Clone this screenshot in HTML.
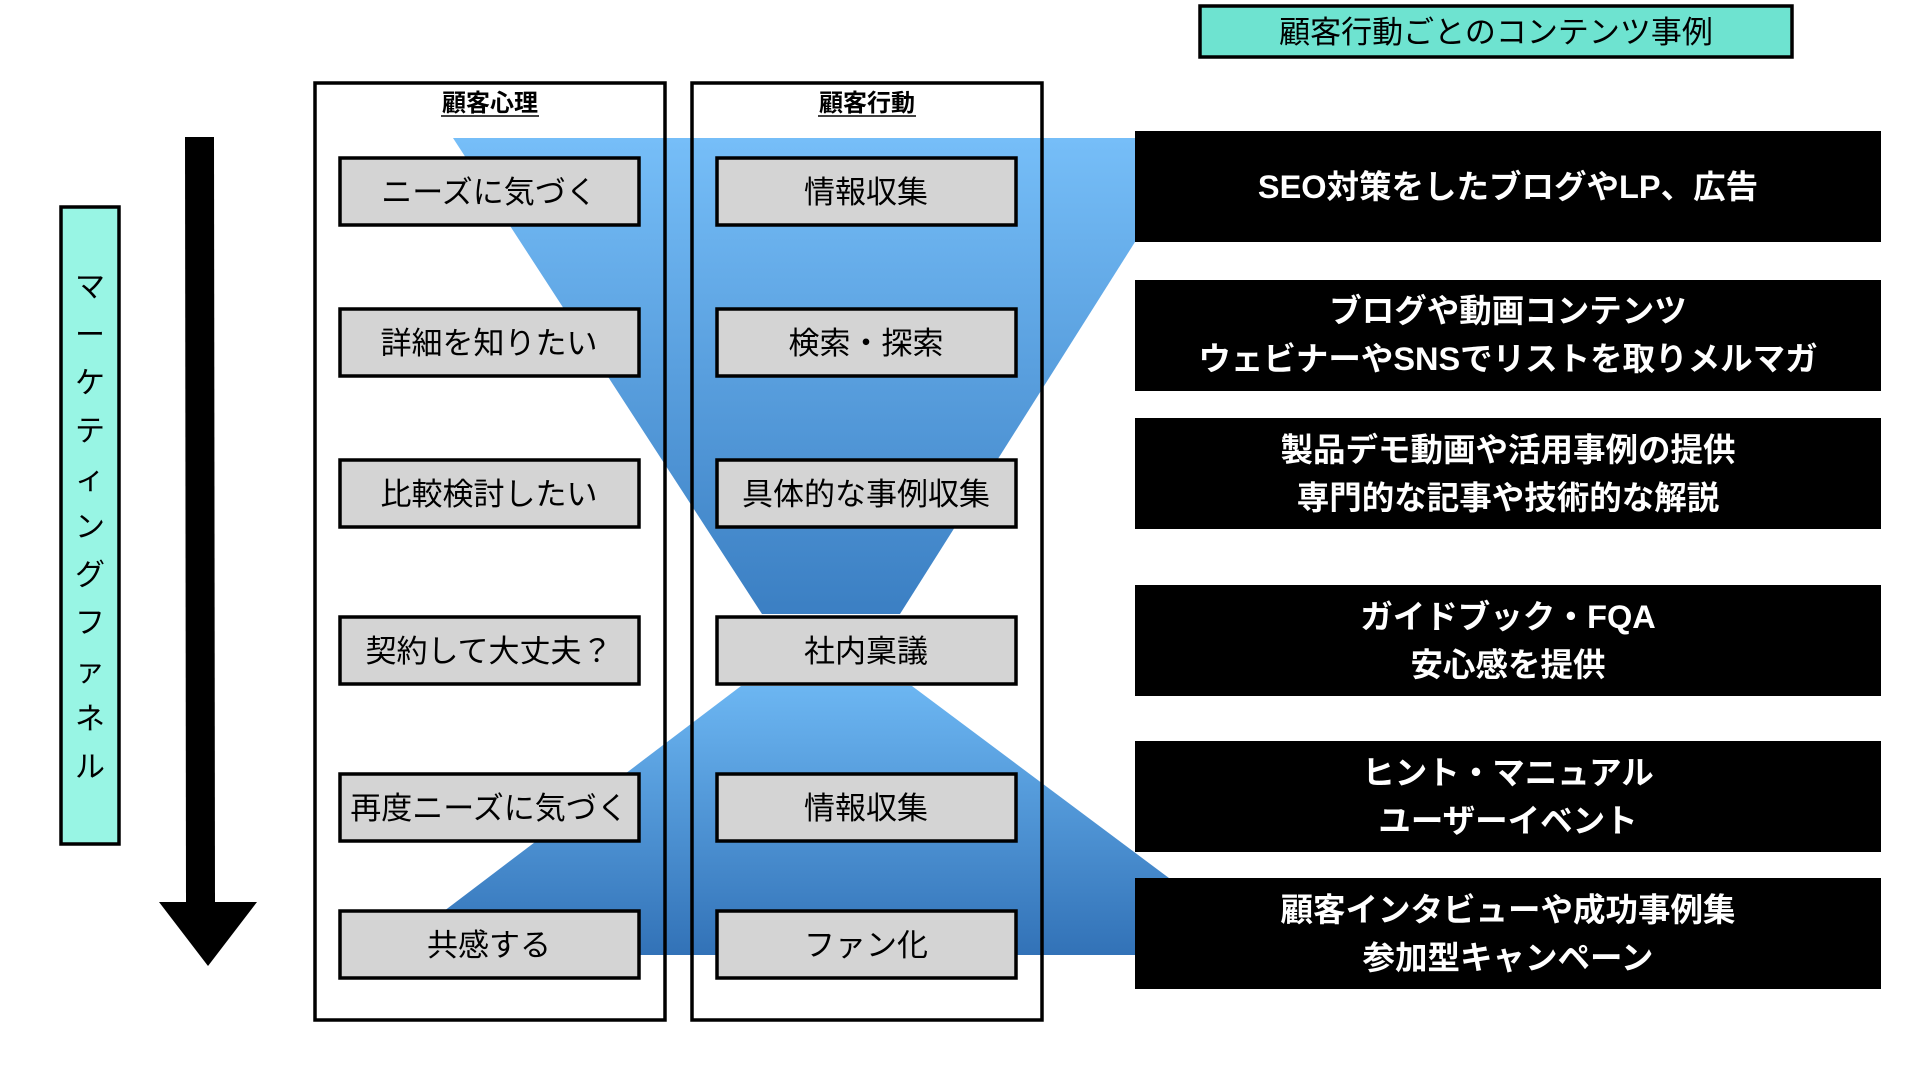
<!DOCTYPE html>
<html><head><meta charset="utf-8"><style>
html,body{margin:0;padding:0;background:#fff;}
svg{display:block;}
text{font-family:"Liberation Sans","Noto Sans CJK JP",sans-serif;}
</style></head><body>
<svg width="1920" height="1080" viewBox="0 0 1920 1080" xmlns="http://www.w3.org/2000/svg">
<defs>
<linearGradient id="g1" x1="0" y1="0" x2="0" y2="1"><stop offset="0" stop-color="#76bef8"/><stop offset="1" stop-color="#3b7fc3"/></linearGradient>
<linearGradient id="g2" x1="0" y1="0" x2="0" y2="1"><stop offset="0" stop-color="#6cb6f2"/><stop offset="1" stop-color="#3272b7"/></linearGradient>
</defs>
<polygon points="453,138 1135,138 1135,242 900,614 762,614" fill="url(#g1)"/>
<polygon points="741,686 912,686 1272,955 386,955" fill="url(#g2)"/>
<rect x="1200" y="6" width="592" height="51" fill="#6ee3d0" stroke="#000" stroke-width="3.5"/>
<text x="1496" y="43" font-size="31" text-anchor="middle">顧客行動ごとのコンテンツ事例</text>
<rect x="61" y="207" width="58" height="637" fill="#98f5e4" stroke="#000" stroke-width="3.5"/>
<g font-size="30" text-anchor="middle">
<text x="90" y="297">マ</text><text x="90" y="345">ー</text><text x="90" y="393">ケ</text><text x="90" y="441">テ</text><text x="90" y="489">ィ</text><text x="90" y="537">ン</text><text x="90" y="585">グ</text><text x="90" y="633">フ</text><text x="90" y="681">ァ</text><text x="90" y="729">ネ</text><text x="90" y="777">ル</text>
</g>
<polygon points="185,137 214,137 215,903 186,903" fill="#000"/>
<polygon points="159,902 257,902 208,966" fill="#000"/>
<rect x="315" y="83" width="350" height="937" fill="none" stroke="#000" stroke-width="3.5"/>
<rect x="692" y="83" width="350" height="937" fill="none" stroke="#000" stroke-width="3.5"/>
<text x="490" y="111" font-size="24" font-weight="bold" text-anchor="middle">顧客心理</text>
<line x1="441" y1="116" x2="539" y2="116" stroke="#000" stroke-width="1.5"/>
<text x="867" y="111" font-size="24" font-weight="bold" text-anchor="middle">顧客行動</text>
<line x1="818" y1="116" x2="916" y2="116" stroke="#000" stroke-width="1.5"/>
<g fill="#d4d4d4" stroke="#000" stroke-width="3.5">
<rect x="340" y="158" width="299" height="67"/><rect x="717" y="158" width="299" height="67"/>
<rect x="340" y="309" width="299" height="67"/><rect x="717" y="309" width="299" height="67"/>
<rect x="340" y="460" width="299" height="67"/><rect x="717" y="460" width="299" height="67"/>
<rect x="340" y="617" width="299" height="67"/><rect x="717" y="617" width="299" height="67"/>
<rect x="340" y="774" width="299" height="67"/><rect x="717" y="774" width="299" height="67"/>
<rect x="340" y="911" width="299" height="67"/><rect x="717" y="911" width="299" height="67"/>
</g>
<g font-size="31" text-anchor="middle">
<text x="489" y="203">ニーズに気づく</text><text x="866" y="203">情報収集</text>
<text x="489" y="354">詳細を知りたい</text><text x="866" y="354">検索・探索</text>
<text x="489" y="505">比較検討したい</text><text x="866" y="505">具体的な事例収集</text>
<text x="489" y="662">契約して大丈夫？</text><text x="866" y="662">社内稟議</text>
<text x="489" y="819">再度ニーズに気づく</text><text x="866" y="819">情報収集</text>
<text x="489" y="956">共感する</text><text x="866" y="956">ファン化</text>
</g>
<g fill="#000">
<rect x="1135" y="131" width="746" height="111"/>
<rect x="1135" y="280" width="746" height="111"/>
<rect x="1135" y="418" width="746" height="111"/>
<rect x="1135" y="585" width="746" height="111"/>
<rect x="1135" y="741" width="746" height="111"/>
<rect x="1135" y="878" width="746" height="111"/>
</g>
<g font-size="32.5" font-weight="bold" fill="#fff" text-anchor="middle">
<text x="1508" y="198">SEO対策をしたブログやLP、広告</text>
<text x="1508" y="322">ブログや動画コンテンツ</text>
<text x="1508" y="370">ウェビナーやSNSでリストを取りメルマガ</text>
<text x="1508" y="461">製品デモ動画や活用事例の提供</text>
<text x="1508" y="509">専門的な記事や技術的な解説</text>
<text x="1508" y="628">ガイドブック・FQA</text>
<text x="1508" y="676">安心感を提供</text>
<text x="1508" y="784">ヒント・マニュアル</text>
<text x="1508" y="832">ユーザーイベント</text>
<text x="1508" y="921">顧客インタビューや成功事例集</text>
<text x="1508" y="969">参加型キャンペーン</text>
</g>
</svg>
</body></html>
